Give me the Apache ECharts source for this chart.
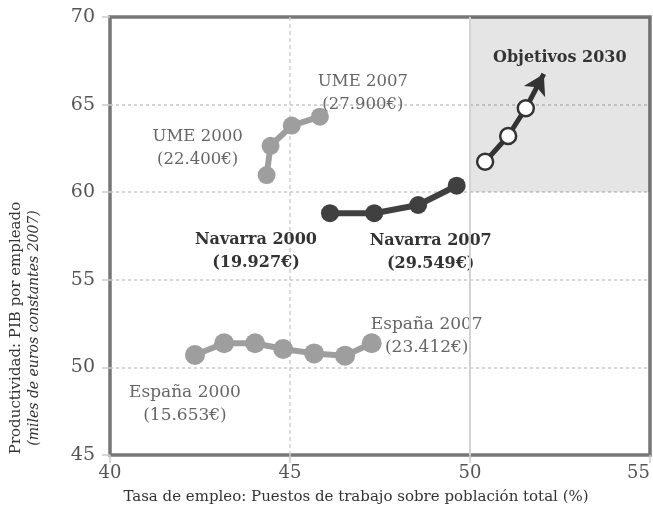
<!DOCTYPE html>
<html>
<head>
<meta charset="utf-8">
<script src="https://cdn.jsdelivr.net/npm/echarts@6/dist/echarts.min.js"></script>
<style>
  html, body { margin: 0; padding: 0; background: #fff; }
  #chart { width: 653px; height: 529px; }
</style>
</head>
<body>
<div id="chart"></div>
<script>
// datos: [tasa de empleo %, productividad miles €]
const espana = [[42.36, 50.71], [43.17, 51.38], [44.03, 51.38], [44.81, 51.05], [45.67, 50.80], [46.53, 50.67], [47.27, 51.38]];
const ume = [[44.35, 60.98], [44.46, 62.65], [45.05, 63.80], [45.83, 64.31]];
const navarra = [[46.11, 58.80], [47.34, 58.80], [48.56, 59.27], [49.63, 60.37]];
const objetivos = [[50.42, 61.74], [51.06, 63.21], [51.55, 64.79]];
const flechaFin = [52.05, 66.75];
const zonaObjetivo = [[50, 60], [55, 70]];

const etiquetasEspana = ['España 2000\n(15.653€)', 'España 2007\n(23.412€)'];
const etiquetasUme = ['UME 2000\n(22.400€)', 'UME 2007\n(27.900€)'];
const etiquetasNavarra = ['Navarra 2000\n(19.927€)', 'Navarra 2007\n(29.549€)'];
const etiquetaObjetivos = 'Objetivos 2030';

const FONT = "'DejaVu Serif', 'Liberation Serif', serif";
const GRIS = '#9e9e9e';
const OSCURO = '#404040';

const chart = echarts.init(document.getElementById('chart'), null, { renderer: 'canvas' });

// pone etiqueta en el primer y último punto
function conEtiquetas(puntos, textos, offs, estilo) {
  return puntos.map(function (p, i) {
    let k = -1;
    if (i === 0) k = 0;
    if (i === puntos.length - 1) k = 1;
    if (k < 0 || !textos[k]) return p;
    return {
      value: p,
      label: Object.assign({
        show: true,
        position: 'inside',
        offset: offs[k],
        formatter: textos[k],
        align: 'center',
        verticalAlign: 'middle',
        fontFamily: FONT,
        fontSize: 17,
        lineHeight: 23
      }, estilo)
    };
  });
}

const option = {
  animation: false,
  grid: {
    left: 110, right: 3, top: 17, bottom: 74,
    outerBoundsMode: 'none',
    containLabel: false,
    show: true,
    borderColor: '#777',
    borderWidth: 3.5,
    backgroundColor: 'transparent'
  },
  xAxis: {
    type: 'value',
    min: 40, max: 55, interval: 5,
    axisLine: { show: false },
    axisTick: { show: true, length: 8, lineStyle: { color: '#ccc', width: 1.5 } },
    axisLabel: { color: '#555', fontSize: 18, fontFamily: FONT, margin: 9, alignMaxLabel: 'right' },
    splitLine: { show: true, showMinLine: false, showMaxLine: false, lineStyle: { color: '#d0d0d0', type: [4, 3], width: 1.5 } }
  },
  yAxis: {
    type: 'value',
    min: 45, max: 70, interval: 5,
    axisLine: { show: false },
    axisTick: { show: true, length: 8, lineStyle: { color: '#ccc', width: 1.5 } },
    axisLabel: { color: '#555', fontSize: 19, fontFamily: FONT, margin: 15 },
    splitLine: { show: true, showMinLine: false, showMaxLine: false, lineStyle: { color: '#c8c8c8', type: [3, 3], width: 1.5 } }
  },
  graphic: [
    {
      type: 'text',
      x: 356, y: 497,
      style: {
        text: 'Tasa de empleo: Puestos de trabajo sobre población total (%)',
        font: '15px ' + FONT,
        fill: '#333',
        align: 'center',
        verticalAlign: 'middle'
      }
    },
    {
      type: 'text',
      x: 25, y: 328,
      rotation: Math.PI / 2,
      style: {
        text: '{a|Productividad: PIB por empleado}\n{b|(miles de euros constantes 2007)}',
        align: 'center',
        verticalAlign: 'middle',
        rich: {
          a: { fontSize: 15, fontFamily: FONT, fill: '#333', lineHeight: 18 },
          b: { fontSize: 14, fontFamily: FONT, fontStyle: 'italic', fill: '#333', lineHeight: 18 }
        }
      }
    }
  ],
  series: [
    {
      name: 'España',
      type: 'line',
      data: conEtiquetas(espana, etiquetasEspana, [[-10, 49], [55, -7]], { color: '#666' }),
      symbol: 'circle',
      symbolSize: 20,
      showAllSymbol: true,
      itemStyle: { color: GRIS },
      lineStyle: { color: GRIS, width: 6 },
      emphasis: { disabled: true },
      markArea: {
        silent: true,
        itemStyle: { color: 'rgba(0,0,0,0.1)', opacity: 1 },
        data: [[{ coord: zonaObjetivo[0] }, { coord: zonaObjetivo[1] }]]
      },
      markLine: {
        silent: true,
        symbol: ['none', 'none'],
        label: { show: false },
        lineStyle: { color: '#d3d3d3', type: 'solid', width: 2 },
        data: [{ xAxis: zonaObjetivo[0][0] }]
      }
    },
    {
      name: 'UME',
      type: 'line',
      data: conEtiquetas(ume, etiquetasUme, [[-69, -27], [43, -23]], { color: '#666', fontSize: 16.5 }),
      symbol: 'circle',
      symbolSize: 18,
      showAllSymbol: true,
      itemStyle: { color: GRIS },
      lineStyle: { color: GRIS, width: 6 },
      emphasis: { disabled: true }
    },
    {
      name: 'Navarra',
      type: 'line',
      data: conEtiquetas(navarra, etiquetasNavarra, [[-74, 38], [-26, 67]], { color: '#333', fontWeight: 'bold', fontSize: 16 }),
      symbol: 'circle',
      symbolSize: 18,
      showAllSymbol: true,
      itemStyle: { color: OSCURO },
      lineStyle: { color: OSCURO, width: 6 },
      emphasis: { disabled: true }
    },
    {
      name: 'Objetivos 2030',
      type: 'line',
      data: conEtiquetas(objetivos, [null, etiquetaObjetivos], [[0, 0], [34, -50]], { color: '#333', fontWeight: 'bold', fontSize: 16 }),
      symbol: 'circle',
      symbolSize: 16,
      showAllSymbol: true,
      itemStyle: { color: '#fff', borderColor: '#333', borderWidth: 2.5 },
      lineStyle: { color: '#333', width: 5 },
      emphasis: { disabled: true },
      z: 5,
      markLine: {
        silent: true,
        symbol: ['none', 'arrow'],
        symbolSize: [18, 20],
        label: { show: false },
        lineStyle: { color: '#333', type: 'solid', width: 5 },
        data: [[{ coord: objetivos[objetivos.length - 1] }, { coord: flechaFin }]]
      }
    }
  ]
};

chart.setOption(option);
</script>
</body>
</html>
